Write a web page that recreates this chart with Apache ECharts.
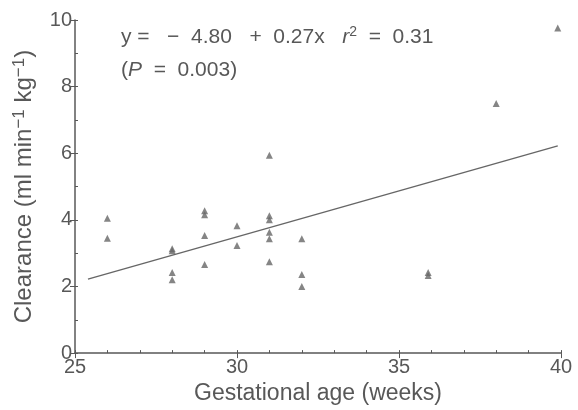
<!DOCTYPE html>
<html>
<head>
<meta charset="utf-8">
<script src="https://cdn.jsdelivr.net/npm/echarts@6/dist/echarts.min.js"></script>
<style>
  html, body { margin: 0; padding: 0; background: #fff; }
  #chart { width: 578px; height: 410px; }
</style>
</head>
<body>
<div id="chart"></div>
<script>
// gestational age (weeks) and clearance (ml/min/kg)
const ages = [26, 26, 28, 28, 28, 28, 29, 29, 29, 29, 30, 30, 31, 31, 31, 31, 31, 31, 32, 32, 32, 35.9, 35.9, 38, 39.9]
const clearance = [4.05, 3.45, 3.13, 3.07, 2.42, 2.2, 4.27, 4.15, 3.53, 2.66, 3.82, 3.23, 5.94, 4.12, 4.0, 3.63, 3.43, 2.74, 3.43, 2.36, 2.0, 2.42, 2.33, 7.49, 9.76]

// fitted line end points as drawn
const fitX = [25.4, 39.9]
const fitY = [2.22, 6.22]

const xTicks = [25, 30, 35, 40]
const yTicks = [0, 2, 4, 6, 8, 10]

const ink = '#585858'
const font = 'Liberation Sans, Arial, sans-serif'

const chart = echarts.init(document.getElementById('chart'))

const richText = {
  i: { fontStyle: 'italic', fontSize: 21, fill: ink, fontFamily: font },
  s: { fontSize: 14, fill: ink, fontFamily: font, verticalAlign: 'top' }
}

const option = {
  backgroundColor: '#fff',
  animation: false,
  grid: { left: 75, right: 17, top: 20, bottom: 55 },
  xAxis: [{
    type: 'value',
    min: 25, max: 40, interval: 5,
    name: 'Gestational age (weeks)',
    nameLocation: 'middle',
    nameGap: 25,
    nameTextStyle: { color: ink, fontSize: 23, fontFamily: font },
    axisLine: { lineStyle: { color: ink, width: 1.5 } },
    axisTick: { show: true, length: 5, lineStyle: { color: ink } },
    axisLabel: {
      color: ink, fontSize: 20, fontFamily: font, margin: 4,
      formatter: v => xTicks.includes(v) ? String(v) : ''
    },
    splitLine: { show: false }
  }, {
    // inward minor ticks every week
    type: 'value',
    min: 25, max: 40, interval: 1,
    position: 'bottom',
    axisLine: { show: false },
    axisTick: { show: true, inside: true, length: 3, lineStyle: { color: ink } },
    axisLabel: { show: false },
    splitLine: { show: false }
  }],
  yAxis: [{
    type: 'value',
    min: 0, max: 10, interval: 2,
    name: 'Clearance (ml min{s|−1} kg{s|−1})',
    nameLocation: 'middle',
    nameGap: 36,
    nameTextStyle: {
      color: ink, fontSize: 24, fontFamily: font, lineHeight: 28,
      rich: { s: { fontSize: 17, color: ink, fontFamily: font, verticalAlign: 'top' } }
    },
    axisLine: { show: true, lineStyle: { color: ink, width: 1.5 } },
    axisTick: { show: true, length: 5, lineStyle: { color: ink } },
    axisLabel: {
      color: ink, fontSize: 20, fontFamily: font, margin: 3,
      formatter: v => yTicks.includes(v) ? String(v) : ''
    },
    splitLine: { show: false }
  }, {
    type: 'value',
    min: 0, max: 10, interval: 1,
    position: 'left',
    axisLine: { show: false },
    axisTick: { show: true, inside: true, length: 3, lineStyle: { color: ink } },
    axisLabel: { show: false },
    splitLine: { show: false }
  }],
  graphic: [{
    type: 'text',
    left: 121, top: 25,
    style: {
      text: 'y =   −  4.80   +  0.27x   {i|r}{s|2}  =  0.31',
      fill: ink, fontSize: 21, fontFamily: font, lineHeight: 24,
      rich: richText
    }
  }, {
    type: 'text',
    left: 121, top: 58,
    style: {
      text: '({i|P}  =  0.003)',
      fill: ink, fontSize: 21, fontFamily: font, lineHeight: 24,
      rich: richText
    }
  }],
  series: [{
    type: 'line',
    data: fitX.map((x, i) => [x, fitY[i]]),
    symbol: 'none',
    lineStyle: { color: '#666', width: 1.3 },
    z: 2
  }, {
    type: 'scatter',
    data: ages.map((a, i) => [a, clearance[i]]),
    symbol: 'triangle',
    symbolSize: 7,
    itemStyle: { color: '#666' },
    z: 3
  }]
}

chart.setOption(option)
</script>
</body>
</html>
